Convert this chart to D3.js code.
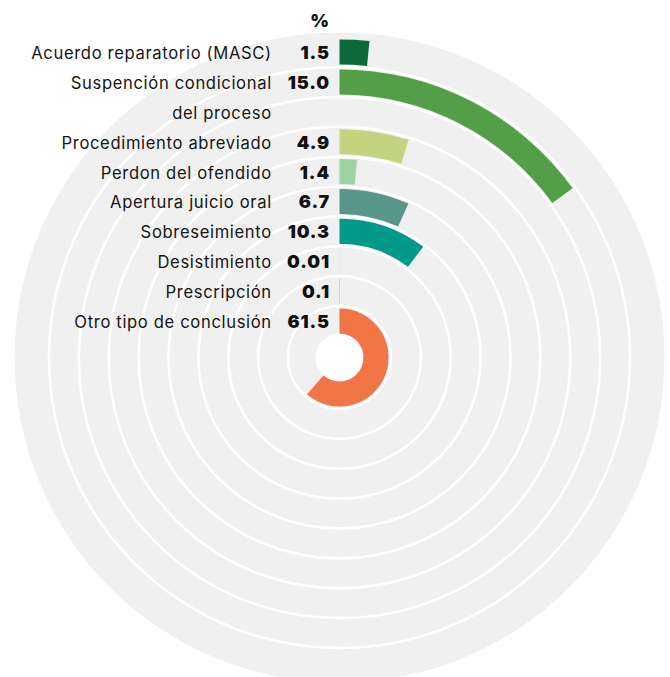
<!DOCTYPE html>
<html>
<head>
<meta charset="utf-8">
<script src="https://cdn.jsdelivr.net/npm/d3@7"></script>
<style>
  html, body { margin: 0; padding: 0; background: #ffffff; }
  svg { display: block; }
  .cat { font-family: "Inter", "Lato", sans-serif; font-size: 16.6px; letter-spacing: 0.65px; fill: #161616; }
  .val { font-family: "Inter", "Lato", sans-serif; font-size: 18px; font-weight: 900; letter-spacing: 0.9px; fill: #111111; }
</style>
</head>
<body>
<svg id="chart" width="670" height="677"></svg>
<script>
// Conclusion types, from the outer ring to the inner ring
const categories = [
  "Acuerdo reparatorio (MASC)",
  "Suspención condicional del proceso",
  "Procedimiento abreviado",
  "Perdon del ofendido",
  "Apertura juicio oral",
  "Sobreseimiento",
  "Desistimiento",
  "Prescripción",
  "Otro tipo de conclusión"
];
// Label lines per category (long names wrap onto a second ring row)
const labelLines = [
  ["Acuerdo reparatorio (MASC)"],
  ["Suspención condicional", "del proceso"],
  ["Procedimiento abreviado"],
  ["Perdon del ofendido"],
  ["Apertura juicio oral"],
  ["Sobreseimiento"],
  ["Desistimiento"],
  ["Prescripción"],
  ["Otro tipo de conclusión"]
];
// Share of cases, %
const values = [1.5, 15.0, 4.9, 1.4, 6.7, 10.3, 0.01, 0.1, 61.5];
const valueLabels = ["1.5", "15.0", "4.9", "1.4", "6.7", "10.3", "0.01", "0.1", "61.5"];
const colors = ["#0c6a3a", "#529f48", "#c3d37f", "#9dd3a1", "#579689", "#00998a", "#2a9d8f", "#f5a62a", "#f27545"];
const unitLabel = "%";

const cx = 339.5, cy = 357.5;
const holeR = 24, ringOuter = 318, diskR = 325;

// One ring row per label line
const rows = [];
labelLines.forEach((lines, i) => {
  lines.forEach((t, k) => rows.push({ key: i + "-" + k, cat: i, line: k, text: t }));
});

const svg = d3.select("#chart");
const g = svg.append("g").attr("transform", `translate(${cx},${cy})`);

// Radial band scale: first row is outermost
const r = d3.scaleBand()
  .domain(rows.map(d => d.key))
  .range([ringOuter, holeR])
  .paddingInner(0.16)
  .paddingOuter(0);
// Angular scale: 100% is the whole circle
const a = d3.scaleLinear().domain([0, 100]).range([0, 2 * Math.PI]);

const step = r.step(), bw = r.bandwidth();

// Grey background disk with a white hole
g.append("path")
  .attr("d", d3.arc()({ innerRadius: holeR, outerRadius: diskR, startAngle: 0, endAngle: 2 * Math.PI }))
  .attr("fill", "#f0f0f0");

// White separators between ring rows
const seps = rows.slice(0, -1).map(d => r(d.key) - (step - bw) / 2);
g.selectAll("circle.sep")
  .data(seps)
  .join("circle")
  .attr("class", "sep")
  .attr("r", d => d)
  .attr("fill", "none")
  .attr("stroke", "#ffffff")
  .attr("stroke-width", 2.6);

// Bars
const arc = d3.arc();
const barRows = rows.filter(d => d.line === 0);
g.selectAll("path.bar")
  .data(barRows)
  .join("path")
  .attr("class", "bar")
  .attr("fill", d => colors[d.cat])
  .attr("d", d => arc({
    innerRadius: r(d.key),
    outerRadius: r(d.key) + bw,
    startAngle: 0,
    endAngle: a(values[d.cat])
  }));

// Category labels, right aligned on each ring row
const yOf = d => -(r(d.key) + bw / 2) + 7;
g.selectAll("text.cat")
  .data(rows)
  .join("text")
  .attr("class", "cat")
  .attr("text-anchor", "end")
  .attr("x", 271.8 - cx)
  .attr("y", yOf)
  .text(d => d.text);

// Value labels
g.selectAll("text.val")
  .data(barRows)
  .join("text")
  .attr("class", "val")
  .attr("text-anchor", "end")
  .attr("x", 330 - cx)
  .attr("y", yOf)
  .text(d => valueLabels[d.cat]);

// Unit header
g.append("text")
  .attr("class", "val")
  .attr("text-anchor", "end")
  .attr("x", 330 - cx)
  .attr("y", 27 - cy)
  .text(unitLabel);
</script>
</body>
</html>
